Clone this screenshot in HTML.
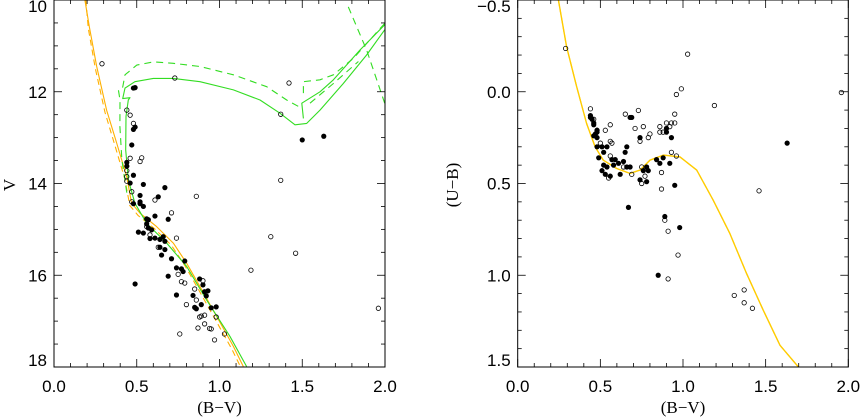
<!DOCTYPE html>
<html><head><meta charset="utf-8"><style>
html,body{margin:0;padding:0;background:#fff;}
svg{display:block;font-family:"Liberation Serif",serif;}
.tk{font-family:"Liberation Sans",sans-serif;}
</style></head><body>
<svg id="c" width="860" height="418" viewBox="0 0 860 418"></svg>
<script>
// ---- Left panel data: V vs (B-V) ----
const leftOpenBV=[0.29,0.73,1.42,1.37,0.44,0.46,0.48,0.46,0.53,0.52,0.44,0.44,0.44,0.47,0.47,0.86,1.37,0.61,0.71,0.74,0.58,0.63,1.31,1.46,1.19,0.75,0.77,0.79,0.80,0.85,0.86,0.90,0.88,0.89,0.91,0.87,0.91,0.94,0.95,0.98,0.97,1.03,0.76,1.96,0.56];
const leftOpenV=[11.39,11.70,11.81,12.49,12.40,12.51,12.69,13.45,13.44,13.52,13.72,13.85,13.95,14.18,14.40,14.28,13.93,14.36,14.64,15.19,15.12,15.39,15.16,15.52,15.89,15.98,16.14,16.17,16.64,16.30,16.54,16.12,16.91,16.89,16.87,17.15,17.06,17.16,17.17,16.91,17.41,17.28,17.28,16.72,14.94];
const leftFillBV=[0.48,0.49,0.48,0.49,0.47,0.44,0.44,0.48,0.46,0.54,0.67,0.52,0.63,0.52,0.52,0.54,0.48,0.61,0.69,0.56,0.57,0.56,0.51,0.54,0.57,0.59,0.58,0.61,0.64,0.66,0.67,0.64,0.65,0.67,0.71,0.69,0.74,0.77,0.79,0.78,0.49,0.74,0.88,0.90,0.84,0.91,0.93,0.92,0.89,0.85,0.86,0.95,0.98,1.50,1.63];
const leftFillV=[11.92,11.91,12.82,12.77,13.16,13.54,13.62,13.82,13.99,14.02,14.09,14.26,14.29,14.40,14.44,14.50,14.44,14.71,14.78,14.77,14.79,14.88,15.06,15.08,14.97,15.01,15.20,15.19,15.22,15.16,15.26,15.39,15.56,15.44,15.64,16.02,15.84,15.86,15.69,15.92,16.19,16.43,16.08,16.21,16.44,16.36,16.34,16.45,16.64,16.70,16.73,16.71,16.69,13.05,12.97];
const orangeBV=[0.187,0.213,0.258,0.318,0.379,0.439,0.469,0.520,0.620,0.721,0.802,0.882,0.983,1.084,1.144];
const orangeV=[10.0,10.58,11.45,12.40,13.12,13.85,14.43,14.65,14.94,15.30,15.74,16.25,16.90,17.55,17.99];
const orangeDashBV=[0.192,0.207,0.250,0.308,0.368,0.428,0.458,0.509,0.609,0.710,0.791,0.871,0.972,1.073,1.133];
const orangeDashV=[10.0,10.62,11.50,12.45,13.17,13.90,14.48,14.70,14.99,15.35,15.79,16.30,16.95,17.60,18.04];
const greenBV=[1.164,1.063,0.922,0.802,0.681,0.560,0.489,0.449,0.433,0.435,0.449,0.459,0.415,0.429,0.489,0.600,0.721,0.882,1.084,1.245,1.366,1.456,1.527,1.607,1.748,1.889,1.998];
const greenV=[17.99,17.33,16.54,15.81,15.30,14.87,14.43,13.92,13.27,12.54,12.18,12.13,12.15,11.92,11.78,11.71,11.71,11.78,11.96,12.18,12.47,12.72,12.69,12.40,11.82,11.20,10.65];
const green2BV=[1.507,1.497,1.607,1.688,1.849,1.998];
const green2V=[12.58,12.25,12.00,11.74,11.09,10.54];
const gDash1BV=[0.440,0.410,0.398,0.399,0.389,0.415,0.429,0.500,0.600,0.721,0.882,1.084,1.285,1.406,1.497];
const gDash1V=[14.20,13.49,12.76,12.18,11.96,11.90,11.63,11.42,11.35,11.38,11.45,11.63,11.89,12.18,12.36];
const gDash2BV=[1.507,1.507,1.607,1.688,1.809,1.998];
const gDash2V=[12.03,11.78,11.74,11.63,11.27,10.51];
const gDash3BV=[1.547,1.688,1.839];
const gDash3V=[12.25,11.82,11.34];
const gDash4BV=[1.778,1.889,1.998];
const gDash4V=[10.15,11.09,12.25];
const leftYTicks=[10,12,14,16,18];
const xTicks=[0.0,0.5,1.0,1.5,2.0];
// ---- Right panel data: (U-B) vs (B-V) ----
const rightOpenBV=[0.29,1.028,1.958,0.99,0.96,1.19,0.44,0.651,0.73,0.95,0.46,0.56,0.71,0.76,0.53,0.48,0.86,0.90,0.93,0.95,0.92,0.86,0.88,0.80,0.79,0.74,0.56,0.57,0.50,0.93,0.96,0.56,0.64,0.75,0.77,0.75,0.55,0.87,0.87,1.46,0.89,0.91,0.97,0.91,1.31,1.37,1.37,1.42,0.69];
const rightOpenUB=[-0.236,-0.205,0.004,-0.016,0.015,0.075,0.093,0.122,0.102,0.122,0.15,0.18,0.20,0.19,0.21,0.21,0.19,0.17,0.17,0.17,0.19,0.22,0.22,0.23,0.25,0.27,0.27,0.28,0.28,0.33,0.35,0.35,0.41,0.41,0.46,0.50,0.47,0.44,0.53,0.54,0.70,0.76,0.89,1.02,1.11,1.08,1.15,1.18,0.45];
const rightFillBV=[0.44,0.45,0.44,0.46,0.46,0.48,0.47,0.48,0.46,0.48,0.48,0.51,0.54,0.49,0.52,0.52,0.54,0.51,0.53,0.56,0.58,0.57,0.59,0.61,0.62,0.64,0.65,0.66,0.68,0.69,0.74,0.68,0.66,0.74,0.76,0.78,0.78,0.79,0.84,0.86,0.88,0.92,0.90,0.90,0.93,0.95,0.67,0.89,0.98,0.85,1.63];
const rightFillUB=[0.14,0.15,0.13,0.17,0.18,0.21,0.23,0.25,0.24,0.22,0.30,0.30,0.30,0.36,0.33,0.40,0.41,0.43,0.45,0.46,0.40,0.37,0.37,0.39,0.45,0.38,0.33,0.30,0.14,0.14,0.25,0.41,0.41,0.48,0.43,0.41,0.49,0.43,0.37,0.39,0.36,0.39,0.22,0.20,0.25,0.51,0.63,0.68,0.74,1.00,0.28];
const rOrangeBV=[0.246,0.296,0.357,0.417,0.468,0.518,0.599,0.679,0.740,0.800,0.881,0.982,1.083,1.183,1.284,1.385,1.486,1.587,1.698];
const rOrangeUB=[-0.5,-0.245,-0.027,0.173,0.30,0.373,0.418,0.445,0.427,0.373,0.345,0.355,0.427,0.591,0.773,0.991,1.191,1.382,1.50];
const rightYTicks=[-0.5,0.0,0.5,1.0,1.5];
const rightYLabels=["\u22120.5","0.0","0.5","1.0","1.5"];

const NS="http://www.w3.org/2000/svg";
const svg=document.getElementById('c');
function mk(tag,attrs,parent){const e=document.createElementNS(NS,tag);for(const k in attrs)e.setAttribute(k,attrs[k]);(parent||svg).appendChild(e);return e;}

function panel(p){
  const g=mk('g',{});
  
  
  const sx=v=>p.x0+(v-p.xmin)/(p.xmax-p.xmin)*(p.x1-p.x0);
  const sy=v=>p.y0+(v-p.ymin)/(p.ymax-p.ymin)*(p.y1-p.y0);
  const clip='clip-'+p.name;
  const cp=mk('clipPath',{id:clip},g);mk('rect',{x:p.x0,y:p.y0,width:p.x1-p.x0,height:p.y1-p.y0},cp);
  const plot=mk('g',{'clip-path':'url(#'+clip+')'},g);
  
  
  p.curves.forEach(c=>{
    const d=c.x.map((v,i)=>(i?'L':'M')+sx(v).toFixed(1)+','+sy(c.y[i]).toFixed(1)).join('');
    const path=mk('path',{d:d,fill:'none',stroke:c.color,'stroke-width':c.w||1.1,'stroke-dasharray':c.dash||'none','stroke-linejoin':'round'},plot);
    
    
  });
  p.open.x.forEach((v,i)=>{
    const e=mk('circle',{cx:sx(v),cy:sy(p.open.y[i]),r:2.2,fill:'none',stroke:'#000','stroke-width':0.8},plot);
    
    
  });
  p.fill.x.forEach((v,i)=>{
    const e=mk('circle',{cx:sx(v),cy:sy(p.fill.y[i]),r:2.6,fill:'#000'},plot);
    
    
  });
  const fr=mk('rect',{x:p.x0,y:p.y0,width:p.x1-p.x0,height:p.y1-p.y0,fill:'none',stroke:'#000','stroke-width':1},g);
  
  
  for(let i=0;i<=20;i++){
    const v=p.xmin+i*0.1, X=sx(v), L=(i%5===0)?8:4;
    mk('line',{x1:X,y1:p.y1,x2:X,y2:p.y1-L,stroke:'#000','stroke-width':0.8},g);
    mk('line',{x1:X,y1:p.y0,x2:X,y2:p.y0+L,stroke:'#000','stroke-width':0.8},g);
  }
  xTicks.forEach(v=>{
    const t=mk('text',{x:sx(v),y:392,'font-size':17,'text-anchor':'middle',class:'tk'},g);t.textContent=v.toFixed(1);
    
    
  });
  const n=Math.round((p.ymax-p.ymin)/p.minor);
  for(let i=0;i<=n;i++){
    const v=p.ymin+i*p.minor, Y=sy(v), L=(Math.abs((v-p.ymin)/p.major-Math.round((v-p.ymin)/p.major))<1e-6)?8:4;
    mk('line',{x1:p.x0,y1:Y,x2:p.x0+L,y2:Y,stroke:'#000','stroke-width':0.8},g);
    mk('line',{x1:p.x1,y1:Y,x2:p.x1-L,y2:Y,stroke:'#000','stroke-width':0.8},g);
  }
  p.yTicks.forEach((v,i)=>{
    let Y=sy(v)+6; if(i===0)Y=sy(v)+12; if(i===p.yTicks.length-1)Y=sy(v)-1;
    const t=mk('text',{x:p.x0-7,y:Y,'font-size':17,'text-anchor':'end',class:'tk'},g);t.textContent=p.yLabels[i];
    
    
  });
  const xt=mk('text',{x:(p.x0+p.x1)/2,y:413,'font-size':17,'text-anchor':'middle'},g);xt.textContent='(B\u2212V)';
  
  
  const yt=mk('text',{x:0,y:0,'font-size':17,'text-anchor':'middle',transform:'translate('+p.ytx+',185) rotate(-90)'},g);yt.textContent=p.ytitle;
  
  
}

panel({name:'left-panel',x0:54,x1:385,y0:0,y1:367,xmin:0,xmax:2,ymin:10,ymax:18,minor:0.5,major:2,
  yTicks:leftYTicks,yLabels:leftYTicks.map(String),ytitle:'V',ytx:15,
  open:{x:leftOpenBV,y:leftOpenV},fill:{x:leftFillBV,y:leftFillV},
  curves:[
    {name:'orange-isochrone-dashed',x:orangeDashBV,y:orangeDashV,color:'#ffb000',dash:'6,4'},
    {name:'orange-isochrone',x:orangeBV,y:orangeV,color:'#ffb000'},
    {name:'green-isochrone-dashed',x:gDash1BV,y:gDash1V,color:'#33dd22',dash:'7,5'},
    {name:'green-branch-dashed',x:gDash2BV,y:gDash2V,color:'#33dd22',dash:'7,5'},
    {name:'green-branch-dashed-2',x:gDash3BV,y:gDash3V,color:'#33dd22',dash:'7,5'},
    {name:'green-agb-dashed',x:gDash4BV,y:gDash4V,color:'#33dd22',dash:'7,5'},
    {name:'green-isochrone',x:greenBV,y:greenV,color:'#33dd22'},
    {name:'green-branch',x:green2BV,y:green2V,color:'#33dd22'}
  ]});
panel({name:'right-panel',x0:517.7,x1:848.3,y0:0,y1:367,xmin:0,xmax:2,ymin:-0.5,ymax:1.5,minor:0.1,major:0.5,
  yTicks:rightYTicks,yLabels:rightYLabels,ytitle:'(U\u2212B)',ytx:458,
  open:{x:rightOpenBV,y:rightOpenUB},fill:{x:rightFillBV,y:rightFillUB},
  curves:[
    {name:'orange-ccd-dashed',x:rOrangeBV,y:rOrangeUB,color:'#ffb000',dash:'6,3'},
    {name:'orange-ccd',x:rOrangeBV,y:rOrangeUB,color:'#ffcc00',w:1.4}
  ]});
</script>
</body></html>
